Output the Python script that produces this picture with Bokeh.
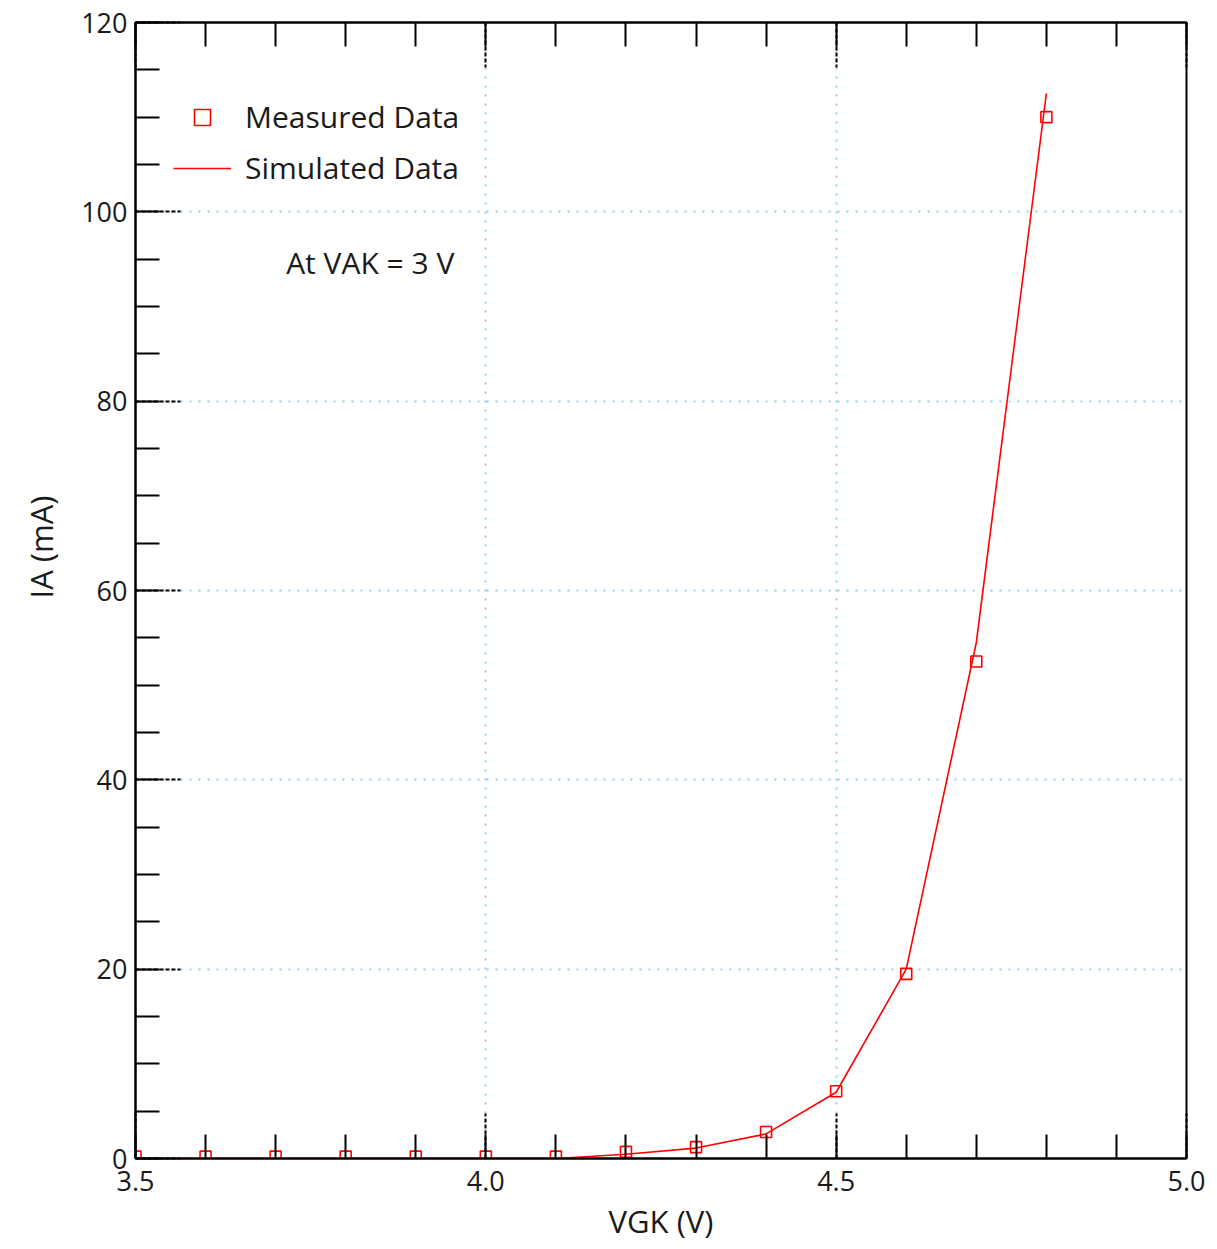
from bokeh.plotting import figure
from bokeh.models import (LinearAxis, SingleIntervalTicker, Legend, LegendItem, Label,
                          Range1d, NumeralTickFormatter, CustomJSTickFormatter, Title)
from bokeh.embed import file_html
from bokeh.resources import INLINE

# ---- data ----
vgk = [3.5, 3.6, 3.7, 3.8, 3.9, 4.0, 4.1, 4.2, 4.3, 4.4, 4.5, 4.6, 4.7, 4.8]
ia_measured = [0.2, 0.2, 0.2, 0.2, 0.2, 0.2, 0.2, 0.7, 1.2, 2.8, 7.1, 19.5, 52.5, 110.0]
vgk_sim = [3.5, 3.6, 3.7, 3.8, 3.9, 4.0, 4.1, 4.2, 4.3, 4.4, 4.5, 4.6, 4.7, 4.8]
ia_simulated = [0.0, 0.0, 0.0, 0.0, 0.0, 0.0, 0.0, 0.45, 1.1, 2.6, 7.0, 20.0, 54.5, 112.5]

FONT = "Open Sans"
TXT = "#1a1a1a"

p = figure(width=1212, height=1244, output_backend="svg", toolbar_location=None,
           x_range=Range1d(3.5, 5.0), y_range=Range1d(0, 120),
           min_border_left=135, min_border_right=26, min_border_top=22, min_border_bottom=84,
           x_axis_label="VGK (V)")

p.outline_line_color = "black"
p.outline_line_width = 2
p.background_fill_color = "white"

xt = SingleIntervalTicker(interval=0.5, num_minor_ticks=5)
yt = SingleIntervalTicker(interval=20, num_minor_ticks=4)
p.xaxis.ticker = xt
p.yaxis.ticker = yt
p.xaxis.formatter = NumeralTickFormatter(format="0.0")

for ax in [p.xaxis[0], p.yaxis[0]]:
    ax.axis_line_width = 2
    ax.axis_line_color = "black"
    ax.major_tick_in = 45
    ax.major_tick_out = 0
    ax.major_tick_line_dash = "4 2"
    ax.major_tick_line_width = 2
    ax.minor_tick_in = 24
    ax.minor_tick_out = 0
    ax.minor_tick_line_width = 2
    ax.major_label_text_font = FONT
    ax.major_label_text_font_size = "27px"
    ax.major_label_text_color = TXT
    ax.axis_label_text_font = FONT
    ax.axis_label_text_font_size = "31px"
    ax.axis_label_text_font_style = "normal"
    ax.axis_label_text_color = TXT

p.xaxis.major_label_standoff = 12
p.xaxis.axis_label_standoff = 6
p.yaxis.major_label_standoff = 8

top = LinearAxis(ticker=SingleIntervalTicker(interval=0.5, num_minor_ticks=5),
                 major_tick_in=45, major_tick_out=0, major_tick_line_dash="4 2",
                 major_tick_line_width=2, minor_tick_in=24, minor_tick_out=0,
                 minor_tick_line_width=2, axis_line_width=2,
                 formatter=CustomJSTickFormatter(code="return ''"),
                 major_label_standoff=0)
p.add_layout(top, "above")

# y-axis title as a side title (sits a little above the axis middle, as in the reference)
p.add_layout(Title(text="IA (mA)", align="left", offset=560, text_font=FONT,
                   text_font_size="31px", text_font_style="normal", text_color=TXT,
                   standoff=34), "left")

for g in [p.xgrid[0], p.ygrid[0]]:
    g.grid_line_color = "#8fcdf2"
    g.grid_line_dash = "2 7"
    g.grid_line_width = 2

sim = p.line(vgk_sim, ia_simulated, line_color="red", line_width=1.6)
meas = p.scatter(vgk, ia_measured, marker="square", size=11, line_color="red",
                 line_width=1.6, fill_color=None)

legend = Legend(items=[LegendItem(label="Measured Data", renderers=[meas]),
                       LegendItem(label="Simulated Data", renderers=[sim])],
                location=(38, 970), border_line_color=None, background_fill_alpha=0,
                padding=0, margin=0, spacing=10, glyph_height=40, glyph_width=58,
                label_standoff=14, label_text_font=FONT, label_text_font_size="30px",
                label_text_color=TXT, label_height=40)
p.add_layout(legend)

p.add_layout(Label(x=3.715, y=94.7, text="At VAK = 3 V", text_font=FONT,
                   text_font_size="30px", text_color=TXT, text_baseline="middle"))

open("out.html", "w").write(file_html(p, INLINE))
